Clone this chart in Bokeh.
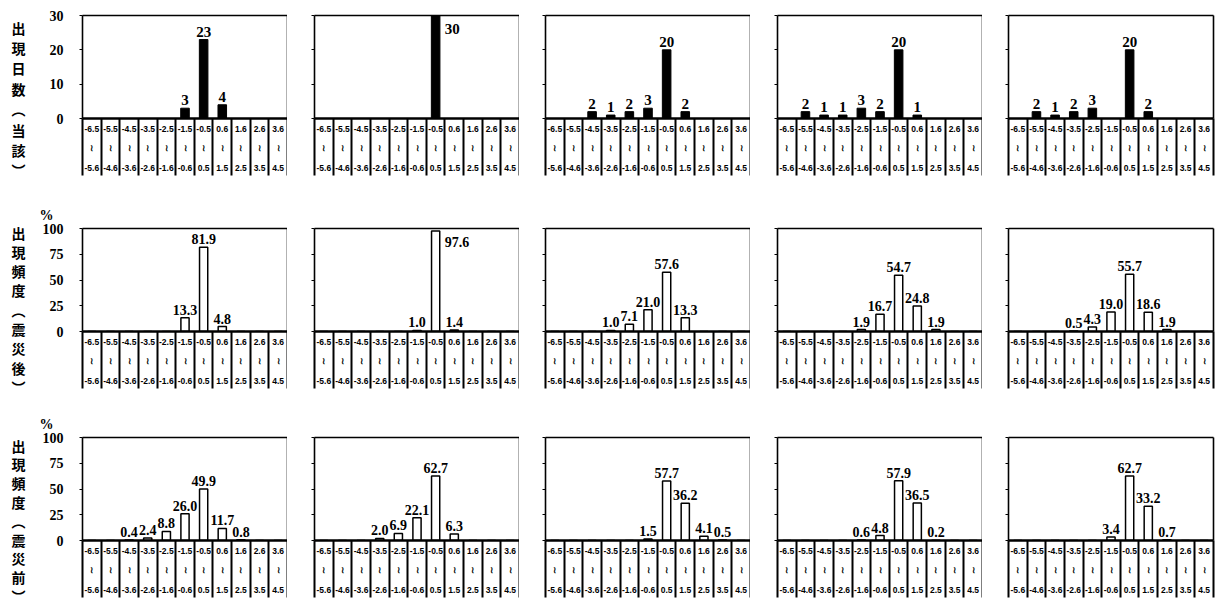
import numpy as np
from bokeh.plotting import figure
from bokeh.layouts import column, row
from bokeh.models import Range1d, LinearAxis, FixedTicker, Title
from bokeh.core.properties import value
from bokeh.embed import file_html
from bokeh.resources import INLINE

# ---------------- data ----------------
range_lo = ["-6.5", "-5.5", "-4.5", "-3.5", "-2.5", "-1.5", "-0.5", "0.6", "1.6", "2.6", "3.6"]
range_hi = ["-5.6", "-4.6", "-3.6", "-2.6", "-1.6", "-0.6", "0.5", "1.5", "2.5", "3.5", "4.5"]

days_1 = [0, 0, 0, 0, 0, 3, 23, 4, 0, 0, 0]
days_2 = [0, 0, 0, 0, 0, 0, 30, 0, 0, 0, 0]
days_3 = [0, 0, 2, 1, 2, 3, 20, 2, 0, 0, 0]
days_4 = [0, 2, 1, 1, 3, 2, 20, 1, 0, 0, 0]
days_5 = [0, 2, 1, 2, 3, 0, 20, 2, 0, 0, 0]

after_1 = [0, 0, 0, 0, 0, 13.3, 81.9, 4.8, 0, 0, 0]
after_2 = [0, 0, 0, 0, 0, 1.0, 97.6, 1.4, 0, 0, 0]
after_3 = [0, 0, 0, 1.0, 7.1, 21.0, 57.6, 13.3, 0, 0, 0]
after_4 = [0, 0, 0, 0, 1.9, 16.7, 54.7, 24.8, 1.9, 0, 0]
after_5 = [0, 0, 0, 0.5, 4.3, 19.0, 55.7, 18.6, 1.9, 0, 0]

before_1 = [0, 0, 0.4, 2.4, 8.8, 26.0, 49.9, 11.7, 0.8, 0, 0]
before_2 = [0, 0, 0, 2.0, 6.9, 22.1, 62.7, 6.3, 0, 0, 0]
before_3 = [0, 0, 0, 0, 0, 1.5, 57.7, 36.2, 4.1, 0.5, 0]
before_4 = [0, 0, 0, 0, 0.6, 4.8, 57.9, 36.5, 0.2, 0, 0]
before_5 = [0, 0, 0, 0, 0, 3.4, 62.7, 33.2, 0.7, 0, 0]

row_titles = ["出現日数︵当該︶", "出現頻度︵震災後︶", "出現頻度︵震災前︶"]
y_ticks_days = [0, 10, 20, 30]
y_ticks_pct = [0, 25, 50, 75, 100]
unit_label = "%"

# ---------------- layout constants (page pixels) ----------------
TITLE_W = 32
FRAME_W = 205
PLOT_H = 103
TABLE_H = 57
LEFT_B = [50, 27, 26, 27, 26]
RIGHT_B = [0, 0, 0, 0, 10]
SERIF = "Liberation Serif"
SANS = "Liberation Sans"
CJK = "Noto Sans CJK JP"
LINE_W = 1.6

rows_cfg = [
    dict(series=[days_1, days_2, days_3, days_4, days_5], ymax=30, ticks=y_ticks_days,
         filled=True, fmt=lambda v: f"{int(v)}", top=15, gap=25, vfs="15px",
         title=row_titles[0], t0=27, tstep=20.4, pct=False),
    dict(series=[after_1, after_2, after_3, after_4, after_5], ymax=100, ticks=y_ticks_pct,
         filled=False, fmt=lambda v: f"{v:.1f}", top=28, gap=20, vfs="14px",
         title=row_titles[1], t0=232, tstep=19.3, pct=True),
    dict(series=[before_1, before_2, before_3, before_4, before_5], ymax=100, ticks=y_ticks_pct,
         filled=False, fmt=lambda v: f"{v:.1f}", top=29, gap=8, vfs="14px",
         title=row_titles[2], t0=445, tstep=18.8, pct=True),
]


def blank_axis(bounds, width=LINE_W):
    return LinearAxis(ticker=FixedTicker(ticks=[]), bounds=bounds, axis_line_width=width,
                      axis_line_color="black", major_tick_in=0, major_tick_out=0,
                      minor_tick_in=0, minor_tick_out=0, major_label_standoff=0,
                      major_label_text_font_size="0px")


def make_plot(vals, cfg, col):
    n = len(range_lo)
    xs = np.arange(1, n + 1)
    ymax = cfg["ymax"]
    first = col == 0
    kw = {}
    if first and cfg["pct"]:
        kw["title"] = Title(text=unit_label, align="left", offset=-43, standoff=11,
                            text_font=SERIF, text_font_size="14px",
                            text_font_style="bold", text_color="black")
    p = figure(frame_width=FRAME_W, frame_height=PLOT_H,
               x_range=Range1d(0.5, n + 0.5), y_range=Range1d(0, ymax),
               x_axis_type=None, y_axis_type=None,
               toolbar_location=None, output_backend="svg",
               min_border_left=LEFT_B[col], min_border_right=RIGHT_B[col],
               min_border_top=cfg["top"], min_border_bottom=TABLE_H + cfg["gap"],
               outline_line_color=None, background_fill_color="white",
               border_fill_color="white", **kw)

    # y axis (left frame edge)
    ax = LinearAxis(ticker=FixedTicker(ticks=cfg["ticks"]),
                    axis_line_width=LINE_W, axis_line_color="black",
                    major_tick_in=0, major_tick_out=3, major_tick_line_width=1,
                    minor_tick_in=0, minor_tick_out=0,
                    major_label_standoff=16 if first else 0,
                    major_label_text_font=SERIF,
                    major_label_text_font_size="14px" if first else "0px",
                    major_label_text_font_style="bold",
                    major_label_text_color="black")
    p.add_layout(ax, "left")
    p.add_layout(blank_axis((0, ymax)), "right")
    p.add_layout(blank_axis((0.5, n + 0.5)), "above")

    # x axis = table of class ranges: labels at centres, cell borders as long minor ticks
    centers = [int(x) for x in xs]
    borders = [c - 0.5 for c in centers] + [centers[-1] + 0.5]
    xa = LinearAxis(ticker=FixedTicker(ticks=centers, minor_ticks=borders),
                    axis_line_width=2.4, axis_line_color="black",
                    major_tick_in=0, major_tick_out=0,
                    minor_tick_in=0, minor_tick_out=TABLE_H,
                    minor_tick_line_width=2, minor_tick_line_color="black",
                    major_label_standoff=-(TABLE_H - 5),
                    major_label_overrides={c: f"{lo}\n≀\n{hi}" for c, lo, hi in
                                           zip(centers, range_lo, range_hi)},
                    major_label_text_font=SANS, major_label_text_font_size="8.5px",
                    major_label_text_font_style="bold", major_label_text_color="black",
                    major_label_text_line_height=1.95)
    p.add_layout(xa, "below")

    if cfg["filled"]:
        p.vbar(x=xs, top=vals, width=0.46, fill_color="black", line_color="black")
    else:
        p.vbar(x=xs, top=vals, width=0.44, fill_color="white", line_color="black",
               line_width=1.5)

    nz = [(x, v) for x, v in zip(xs, vals) if v > 0]
    normal = [(x, v) for x, v in nz if v / ymax <= 0.85]
    high = [(x, v) for x, v in nz if v / ymax > 0.85]
    vfont = dict(text_font=value(SERIF), text_font_style="bold",
                 text_font_size=cfg["vfs"], text_color="black")
    if normal:
        p.text(x=[x for x, _ in normal], y=[v for _, v in normal],
               text=[cfg["fmt"](v) for _, v in normal],
               text_align="center", text_baseline="bottom", y_offset=-3, **vfont)
    if high:
        p.text(x=[x for x, _ in high], y=[ymax] * len(high),
               text=[cfg["fmt"](v) for _, v in high],
               text_align="left", text_baseline="top", x_offset=9, y_offset=8, **vfont)
    return p


def make_title(cfg, row_top, row_h):
    f = figure(width=TITLE_W, height=row_h, x_range=Range1d(0, TITLE_W),
               y_range=Range1d(row_h, 0), x_axis_type=None, y_axis_type=None,
               toolbar_location=None, output_backend="svg",
               min_border_left=0, min_border_right=0, min_border_top=0,
               min_border_bottom=0, outline_line_color=None,
               background_fill_color="white", border_fill_color="white")
    chars = list(cfg["title"])
    ys = [cfg["t0"] + i * cfg["tstep"] - row_top for i in range(len(chars))]
    f.text(x=[18] * len(chars), y=ys, text=chars, text_font=value(CJK),
           text_font_style="bold", text_font_size="14px", text_align="center",
           text_baseline="middle", text_color="black")
    return f


rows = []
page_y = 0
for cfg in rows_cfg:
    row_h = cfg["top"] + PLOT_H + TABLE_H + cfg["gap"]
    # each figure wrapped in its own column so frames are not cross-aligned
    cols = [column(make_title(cfg, page_y, row_h))]
    for c, vals in enumerate(cfg["series"]):
        cols.append(column(make_plot(vals, cfg, c)))
    rows.append(row(*cols))
    page_y += row_h

layout = column(*rows)
open("out.html", "w").write(file_html(layout, INLINE))
